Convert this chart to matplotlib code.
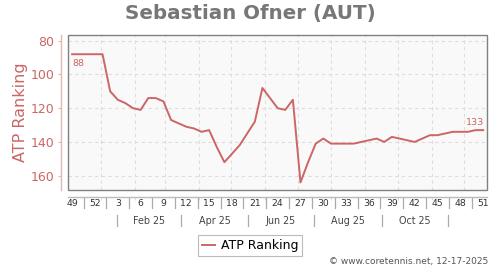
import datetime as dt
import matplotlib
matplotlib.use("Agg")
import matplotlib.pyplot as plt
import matplotlib.transforms as mtransforms
from matplotlib.patches import Rectangle

# ---- data ----
iso_years = [2024, 2024, 2024, 2024] + [2025] * 51
iso_weeks = [49, 50, 51, 52] + list(range(1, 52))
ranks = [88, 88, 88, 88, 88, 110, 115, 117, 120, 121,
         114, 114, 116, 127, 129, 131, 132, 134, 133, 143,
         152, 147, 142, 135, 128, 108, 114, 120, 121, 115,
         164, 152, 141, 138, 141, 141, 141, 141, 140, 139,
         138, 140, 137, 138, 139, 140, 138, 136, 136, 135,
         134, 134, 134, 133, 133]
week_label_years = [2024, 2024] + [2025] * 17
week_label_weeks = [49, 52] + list(range(3, 52, 3))
month_labels = ["Feb 25", "Apr 25", "Jun 25", "Aug 25", "Oct 25"]
month_sep_months = [1, 3, 5, 7, 9, 11]
y_ticks = [80, 100, 120, 140, 160]
title = "Sebastian Ofner (AUT)"
series_name = "ATP Ranking"
credit = "\u00a9 www.coretennis.net, 12-17-2025"

RED = "#cc6666"

def week_center(y, w):
    return dt.datetime.combine(dt.date.fromisocalendar(y, w, 4), dt.time(12))

def week_start(y, w):
    return dt.datetime.combine(dt.date.fromisocalendar(y, w, 1), dt.time(0))

dates = [week_center(y, w) for y, w in zip(iso_years, iso_weeks)]

fig = plt.figure(figsize=(5, 2.7), dpi=100)
ax = fig.add_axes([68.3 / 500, 1 - 190 / 270, (487 - 68.3) / 500, 155 / 270])
ax.set_facecolor("#f9f9f9")

ax.plot(dates, ranks, color=RED, lw=1.4, zorder=3, label=series_name)

ax.set_xlim(week_start(2024, 49), week_start(2025, 52))
ax.set_ylim(168.5, 76.6)
ax.set_yticks(y_ticks)

# grid
ax.grid(axis="y", color="#dddddd", ls=(0, (3, 3)), lw=0.8)
month_starts = [dt.datetime(2025, m, 1) for m in range(1, 13)]
for d in month_starts:
    ax.axvline(d, color="#dddddd", ls=(0, (3, 3)), lw=0.8, zorder=1)

# frame
ax.add_patch(Rectangle((0, 0), 1, 1, transform=ax.transAxes, fill=False,
                       edgecolor="#808080", lw=1.0, zorder=5, clip_on=False))
for s in ["top", "right"]:
    ax.spines[s].set_visible(False)
ax.spines["left"].set_position(("outward", 5))
ax.spines["left"].set_color("#e3b5b5")
ax.spines["left"].set_linewidth(1.0)
ax.spines["bottom"].set_position(("outward", 5))
ax.spines["bottom"].set_color("#bbbbbb")
ax.spines["bottom"].set_linewidth(1.0)

ax.tick_params(axis="y", colors=RED, labelsize=9, length=2, width=0.8, pad=3)
ax.tick_params(axis="y", color="#e3b5b5")
ax.set_xticks(month_starts)
ax.tick_params(axis="x", length=2, color="#dddddd", labelbottom=False)

# week labels and separators
tr = mtransforms.blended_transform_factory(ax.transData, ax.transAxes)
wl_dates = [week_center(y, w) for y, w in zip(week_label_years, week_label_weeks)]
for d, w in zip(wl_dates, week_label_weeks):
    ax.text(d, -0.086, str(w), transform=tr, ha="center", va="center",
            fontsize=6.7, color="#333333", clip_on=False)
for a, b in zip(wl_dates[:-1], wl_dates[1:]):
    m = a + (b - a) / 2
    ax.plot([m, m], [-0.052, -0.116], transform=tr, color="#aaaaaa",
            lw=0.9, clip_on=False)

# month labels and separators
seps = [dt.datetime(2025, m, 16) for m in month_sep_months]
for s in seps:
    ax.plot([s, s], [-0.161, -0.232], transform=tr, color="#aaaaaa",
            lw=0.9, clip_on=False)
for a, b, lab in zip(seps[:-1], seps[1:], month_labels):
    m = a + (b - a) / 2
    ax.text(m, -0.198, lab, transform=tr, ha="center", va="center",
            fontsize=6.9, color="#444444", clip_on=False)

# end-point annotations
ax.annotate(str(ranks[0]), xy=(dates[0], ranks[0]), xytext=(0, -6.6),
            textcoords="offset points", ha="left", va="center",
            fontsize=6.8, color=RED)
ax.annotate(str(ranks[-1]), xy=(dates[-1], ranks[-1]), xytext=(1, 5.6),
            textcoords="offset points", ha="right", va="center",
            fontsize=6.8, color=RED)

# texts
fig.text(0.5, 1 - 13 / 270, title, ha="center", va="center",
         fontsize=14.3, fontweight="bold", color="#777777")
fig.text(20.7 / 500, 1 - 112.5 / 270, series_name, rotation=90,
         ha="center", va="center", fontsize=11.5, color=RED)
fig.text(488 / 500, 1 - 261.7 / 270, credit, ha="right", va="center",
         fontsize=6.5, color="#555555")

leg = fig.legend(loc="center", bbox_to_anchor=(0.5, 1 - 245.5 / 270),
                 fontsize=9, frameon=True, fancybox=False, borderpad=0.3,
                 handlelength=1.1, handletextpad=0.45)
leg.get_frame().set_edgecolor("#aaaaaa")
leg.get_frame().set_linewidth(0.8)

fig.savefig("out.png", dpi=100)
